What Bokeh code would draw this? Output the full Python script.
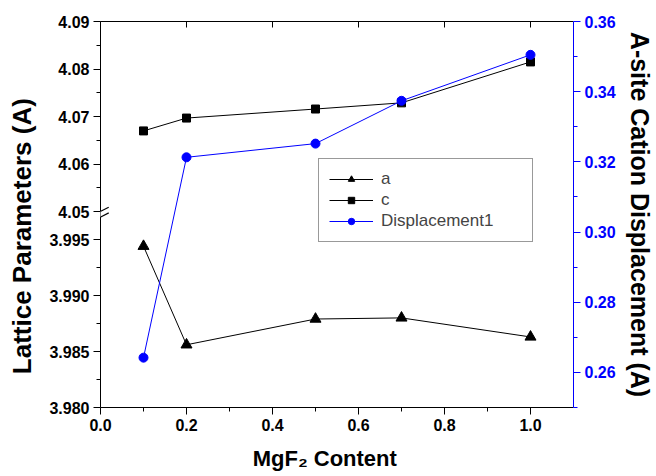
from bokeh.plotting import figure
from bokeh.models import (Range1d, LinearAxis, FixedTicker, NumeralTickFormatter,
                          CustomJSTickFormatter, Legend, LegendItem, PolyAnnotation, Arrow)
from bokeh.embed import file_html
from bokeh.resources import INLINE

# ---------------- data ----------------
mgf2 = [0.1, 0.2, 0.5, 0.7, 1.0]
lattice_a = [3.9944, 3.9856, 3.9879, 3.9880, 3.9863]
lattice_c = [4.0670, 4.0697, 4.0716, 4.0729, 4.0815]
displacement = [0.2642, 0.3213, 0.3252, 0.3374, 0.3505]

x_ticks = [0.0, 0.2, 0.4, 0.6, 0.8, 1.0]
x_minor = [0.1, 0.3, 0.5, 0.7, 0.9]
lower_ticks = [3.980, 3.985, 3.990, 3.995]
lower_labels = ["3.980", "3.985", "3.990", "3.995"]
lower_minor = [3.9825, 3.9875, 3.9925]
upper_ticks = [4.05, 4.06, 4.07, 4.08, 4.09]
upper_labels = ["4.05", "4.06", "4.07", "4.08", "4.09"]
upper_minor = [4.055, 4.065, 4.075, 4.085]
disp_ticks = [0.26, 0.28, 0.30, 0.32, 0.34, 0.36]
disp_minor = [0.25, 0.27, 0.29, 0.31, 0.33, 0.35]

NBSP = "\u00a0"
x_title = "MgF\u2082 Content" + NBSP * 4
left_title = "Lattice Parameters (A)" + NBSP * 6
right_title = "A-site Cation Displacement (A)"

# ---------------- layout / ranges (broken left axis) ----------------
W, H = 656, 476
BL, BR, BT, BB = 100, 79, 21, 69
FRAME_W = W - BL - BR
FRAME_H = H - BT - BB
X_RANGE = (0.0, 1.1)
LO = (3.980, 3.980 + FRAME_H / 11200.0)       # lower segment scale
UP = (4.09 - FRAME_H / 4757.0, 4.09)          # upper segment scale
DISP = (0.25, 0.36)

PX_X = FRAME_W / (X_RANGE[1] - X_RANGE[0])    # pixels per x unit
PX_LO = FRAME_H / (LO[1] - LO[0])             # pixels per lower-y unit


def up_to_lo(u):
    return LO[0] + (u - UP[0]) / (UP[1] - UP[0]) * (LO[1] - LO[0])


FONT = "Liberation Sans"

p = figure(width=W, height=H, output_backend="svg", toolbar_location=None,
           x_range=Range1d(*X_RANGE), y_range=Range1d(*LO),
           x_axis_location=None, y_axis_location=None,
           min_border_left=BL, min_border_right=BR, min_border_top=BT, min_border_bottom=BB,
           background_fill_color="white", border_fill_color="white")
p.extra_y_ranges = {"upper": Range1d(*UP), "disp": Range1d(*DISP)}
p.outline_line_color = None
p.grid.visible = False


def style_axis(ax, color="black"):
    ax.axis_line_color = color
    ax.major_tick_line_color = color
    ax.minor_tick_line_color = color
    ax.major_tick_out = 7
    ax.major_tick_in = 0
    ax.minor_tick_out = 4
    ax.minor_tick_in = 0
    ax.major_label_text_font = FONT
    ax.major_label_text_font_style = "bold"
    ax.major_label_text_font_size = "16px"
    ax.major_label_text_color = color
    ax.major_label_standoff = 4
    ax.axis_label_text_font = FONT
    ax.axis_label_text_font_style = "bold"
    ax.axis_label_text_color = "black"


# bottom axis
xa = LinearAxis(ticker=FixedTicker(ticks=x_ticks, minor_ticks=x_minor),
                formatter=NumeralTickFormatter(format="0.0"), axis_label=x_title)
style_axis(xa)
xa.axis_label_text_font_size = "22px"
xa.axis_label_standoff = 12
p.add_layout(xa, "below")

# top axis (frame line with inward ticks)
ta = LinearAxis(ticker=FixedTicker(ticks=x_ticks, minor_ticks=[]),
                formatter=CustomJSTickFormatter(code="return ''"))
ta.major_tick_in = 6
ta.major_tick_out = 0
ta.minor_tick_in = 0
ta.minor_tick_out = 0
ta.axis_line_color = "black"
ta.major_label_standoff = 0
p.add_layout(ta, "above")

# left broken axis
left_pos = lower_ticks + [up_to_lo(u) for u in upper_ticks]
left_lab = lower_labels + upper_labels
left_minor = lower_minor + [up_to_lo(u) for u in upper_minor]
ya = LinearAxis(ticker=FixedTicker(ticks=left_pos, minor_ticks=left_minor),
                formatter=CustomJSTickFormatter(
                    args=dict(pos=left_pos, lab=left_lab),
                    code="""for (let i = 0; i < pos.length; i++) {
                                if (Math.abs(tick - pos[i]) < 1e-7) { return lab[i]; }
                            }
                            return '';"""),
                axis_label=left_title)
style_axis(ya)
ya.axis_label_text_font_size = "26px"
ya.axis_label_standoff = 9
p.add_layout(ya, "left")

# right axis (displacement)
ra = LinearAxis(y_range_name="disp", ticker=FixedTicker(ticks=disp_ticks, minor_ticks=disp_minor),
                formatter=NumeralTickFormatter(format="0.00"), axis_label=right_title)
style_axis(ra, color="#0000ff")
ra.axis_label_text_font_size = "25px"
ra.axis_label_standoff = 7
p.add_layout(ra, "right")

# ---------------- series ----------------
la = p.line(mgf2, lattice_a, line_color="black", line_width=1)
sa = p.scatter(mgf2, lattice_a, marker="triangle", size=11, color="black")
lc = p.line(mgf2, lattice_c, line_color="black", line_width=1, y_range_name="upper")
sc = p.scatter(mgf2, lattice_c, marker="square", size=8, color="black", y_range_name="upper")
ld = p.line(mgf2, displacement, line_color="#0000ff", line_width=1, y_range_name="disp")
sd = p.scatter(mgf2, displacement, marker="circle", size=9, color="#0000ff", y_range_name="disp")

# ---------------- axis break mark ----------------
v1 = LO[0] + 192 / PX_LO      # lower end of upper stroke
dv = 8.3 / PX_LO
gap = 5.7 / PX_LO
hx = 8.3 / PX_X
mask = PolyAnnotation(xs=[-hx * 0.6, hx * 0.6, hx * 0.6, -hx * 0.6],
                      ys=[v1 + dv * 0.2, v1 + dv * 0.8, v1 - gap + dv * 0.8, v1 - gap + dv * 0.2],
                      fill_color="white", fill_alpha=1.0, line_color=None)
p.add_layout(mask)
for off in (0.0, gap):
    p.add_layout(Arrow(end=None, x_start=-hx, y_start=v1 - off, x_end=hx, y_end=v1 - off + dv,
                       line_color="black", line_width=1.2))

# ---------------- legend ----------------
legend = Legend(items=[LegendItem(label="a", renderers=[la, sa]),
                       LegendItem(label="c", renderers=[lc, sc]),
                       LegendItem(label="Displacement1", renderers=[ld, sd])],
                location=(218, 165))
legend.label_text_font = FONT
legend.label_text_font_size = "17px"
legend.border_line_color = "#333333"
legend.border_line_width = 1
legend.background_fill_color = "white"
legend.background_fill_alpha = 1.0
legend.padding = 10
legend.spacing = 1
legend.margin = 0
legend.glyph_width = 44
legend.glyph_height = 16
legend.label_height = 20
legend.label_width = 141
legend.label_standoff = 8
p.add_layout(legend)

open("out.html", "w").write(file_html(p, INLINE))
